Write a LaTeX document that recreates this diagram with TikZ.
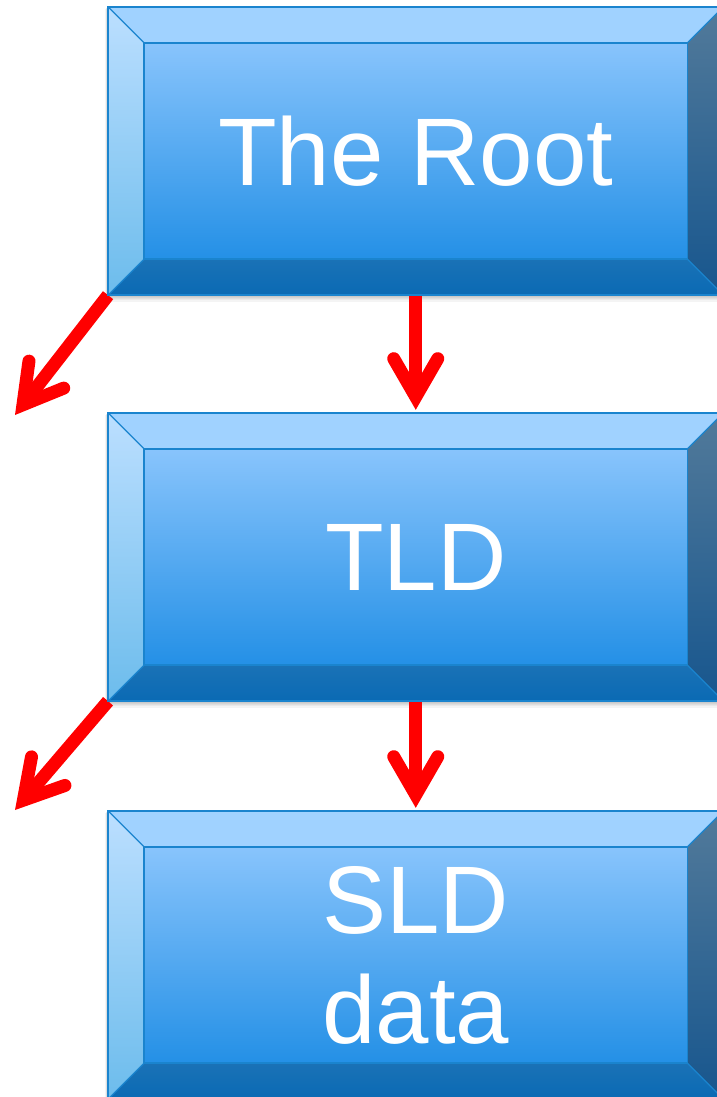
\documentclass[tikz,border=0pt]{standalone}
\usepackage{fontspec}
\setmainfont{Liberation Sans}
\usetikzlibrary{calc}

\definecolor{edgeblue}{HTML}{1A84CE}
\definecolor{facetop}{HTML}{88C4FC}
\definecolor{facebot}{HTML}{2490E6}
\definecolor{topbevel}{HTML}{A0D2FF}
\definecolor{lefttop}{HTML}{BCDFFF}
\definecolor{leftbot}{HTML}{6CBCEC}
\definecolor{bottop}{HTML}{1A72B6}
\definecolor{botbot}{HTML}{0A6AB4}
\definecolor{righttop}{HTML}{527A9A}
\definecolor{rightbot}{HTML}{17568E}
\definecolor{arrowred}{HTML}{FF0000}

\pgfdeclarelayer{paperlayer}
\pgfdeclarelayer{shadowlayer}
\pgfdeclarelayer{arrowlayer}
\pgfdeclarelayer{boxlayer}
\pgfsetlayers{paperlayer,shadowlayer,arrowlayer,boxlayer,main}

\tikzset{
  levelbox/.style={rectangle, minimum width=615pt, minimum height=288pt,
    inner sep=0pt, text=white, align=center,
    font=\fontsize{96}{110}\selectfont},
  edgeline/.style={draw=edgeblue, line width=1.6pt},
  diagline/.style={draw=edgeblue, line width=1.2pt},
  arrowshaft/.style={draw=arrowred, line width=13pt, line cap=butt},
  arrowhead/.style={draw=arrowred, line width=13pt, line cap=round, line join=miter},
}

% bevelled plate around a named node
\newcommand\bevelplate[1]{%
  \coordinate (#1-otl) at (#1.north west);
  \coordinate (#1-otr) at (#1.north east);
  \coordinate (#1-obl) at (#1.south west);
  \coordinate (#1-obr) at (#1.south east);
  \coordinate (#1-itl) at ($(#1.north west)+(36,36)$);
  \coordinate (#1-itr) at ($(#1.north east)+(-36,36)$);
  \coordinate (#1-ibl) at ($(#1.south west)+(36,-36)$);
  \coordinate (#1-ibr) at ($(#1.south east)+(-36,-36)$);
  \begin{pgfonlayer}{shadowlayer}
    \foreach \i in {1,...,5}{
      \fill[black, opacity=0.045]
        ($(#1-otl)+(-0.6*\i,0.4*\i)$) rectangle ($(#1-obr)+(0.6*\i,1.3*\i)$);
    }
  \end{pgfonlayer}
  \begin{pgfonlayer}{boxlayer}
    \shade[top color=facetop, bottom color=facebot] (#1-itl) rectangle (#1-ibr);
    \fill[topbevel] (#1-otl) -- (#1-otr) -- (#1-itr) -- (#1-itl) -- cycle;
    \shade[top color=lefttop, bottom color=leftbot]
      (#1-otl) -- (#1-itl) -- (#1-ibl) -- (#1-obl) -- cycle;
    \shade[top color=bottop, bottom color=botbot]
      (#1-obl) -- (#1-ibl) -- (#1-ibr) -- (#1-obr) -- cycle;
    \shade[top color=righttop, bottom color=rightbot]
      (#1-itr) -- (#1-otr) -- (#1-obr) -- (#1-ibr) -- cycle;
    \draw[diagline] (#1-otl) -- (#1-itl) (#1-otr) -- (#1-itr)
      (#1-obl) -- (#1-ibl) (#1-obr) -- (#1-ibr);
    \draw[edgeline] (#1-itl) rectangle (#1-ibr);
    \draw[edgeline] (#1-otl) rectangle (#1-obr);
  \end{pgfonlayer}
}

% thick red arrow with a chevron head; optional gap before the target
\newcommand\redarrow[3][3pt]{%
  \begin{pgfonlayer}{arrowlayer}
    \path (#2) coordinate (ra-s) (#3) coordinate (ra-e);
    \coordinate (ra-t) at ($(ra-e)!#1!(ra-s)$);
    \coordinate (ra-v) at ($(ra-t)!13pt!(ra-s)$);
    \draw[arrowshaft] (ra-s) -- (ra-v);
    \draw[arrowhead] ($(ra-v)!44pt!30:(ra-s)$) -- (ra-v) -- ($(ra-v)!44pt!-30:(ra-s)$);
  \end{pgfonlayer}
}

\begin{document}
\begin{tikzpicture}[x=1pt, y=-1pt]
  \useasboundingbox (0,0) rectangle (717,1097);
  \clip (0,0) rectangle (717,1097);
  \begin{pgfonlayer}{paperlayer}
    \fill[white] (0,0) rectangle (717,1097);
  \end{pgfonlayer}

  \node[levelbox] (root) at (415.75,151) {The Root};
  \node[levelbox] (tld)  at (415.75,557) {TLD};
  \node[levelbox] (sld)  at (415.75,955) {SLD\\data};

  \bevelplate{root}
  \bevelplate{tld}
  \bevelplate{sld}

  \coordinate (leftA) at (15,415);
  \coordinate (leftB) at (15,810);

  \redarrow{root.south}{tld.north}
  \redarrow{tld.south}{sld.north}
  \redarrow[0pt]{root.south west}{leftA}
  \redarrow[0pt]{tld.south west}{leftB}
\end{tikzpicture}
\end{document}
